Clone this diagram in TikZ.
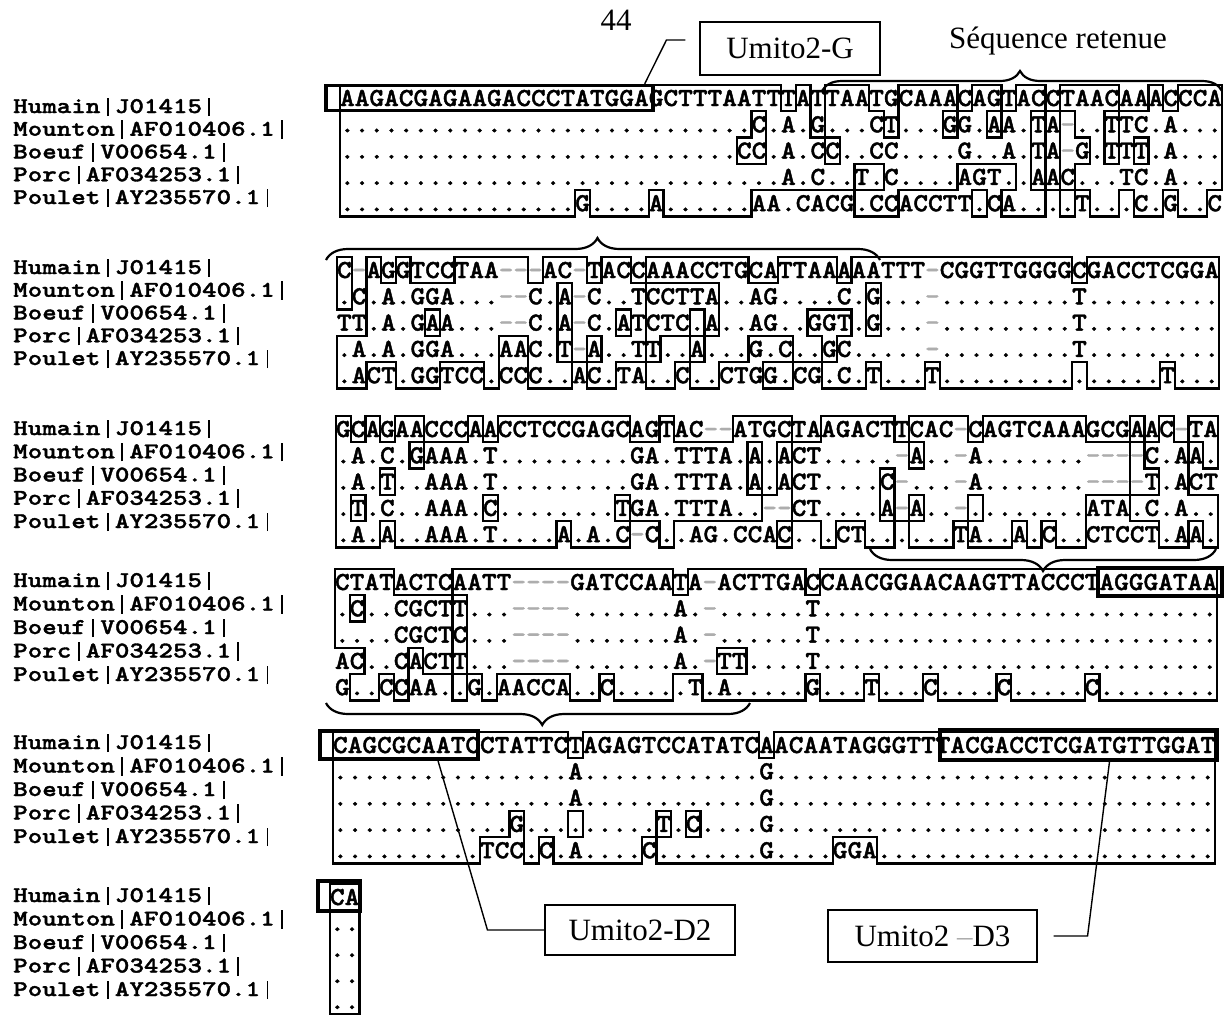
\documentclass[tikz,border=0pt]{standalone}
\usepackage{fontspec}
\setmainfont{Liberation Serif}
\newfontfamily\seqfont{lmmonolt10-bold.otf}[FakeStretch=1.077, FakeBold=1.6]
\newfontfamily\labfont{lmmonolt10-bold.otf}[FakeStretch=1.23, FakeBold=1.6]
\usetikzlibrary{decorations.pathreplacing}
\definecolor{dashgray}{gray}{0.68}
\newcommand\vb{\makebox[\fontcharwd\font`\|]{\rule[-3pt]{1.9pt}{18.5pt}}}
\tikzset{
  seqrow/.style={anchor=base west, inner sep=0pt, outer sep=0pt, font=\seqfont\fontsize{26}{26}\selectfont},
  lab/.style={anchor=base west, inner sep=0pt, font=\labfont\fontsize{22.5}{22.5}\selectfont},
  alline/.style={line width=2.3pt, line cap=rect},
  primer/.style={draw, line width=3.4pt, inner sep=0pt},
  tbox/.style={draw, line width=1.1pt, inner sep=0pt, font=\fontsize{31}{31}\selectfont},
  conn/.style={line width=1.4pt},
  bracepath/.style={line width=2.2pt, decorate},
  plaintext/.style={inner sep=0pt, font=\fontsize{31}{31}\selectfont},
}
\ExplSyntaxOn
\intarray_new:Nn \g_al_mask_intarray { 800 }
\int_new:N \l_al_n_int
\int_new:N \l_al_max_int
\int_new:N \l_al_na_int
\int_new:N \l_al_nb_int
\int_new:N \l_al_nc_int
\int_new:N \l_al_nd_int
\int_new:N \l_al_ne_int
\str_new:N \l_al_ra_str
\str_new:N \l_al_rb_str
\str_new:N \l_al_rc_str
\str_new:N \l_al_rd_str
\str_new:N \l_al_re_str
\tl_new:N \l_al_ca_tl
\tl_new:N \l_al_cb_tl
\tl_new:N \l_al_cc_tl
\tl_new:N \l_al_cd_tl
\tl_new:N \l_al_ce_tl
\tl_new:N \l_al_cons_tl
\tl_new:N \l_al_tmp_tl
\fp_const:Nn \c_al_w_fp { 14.7 }
\cs_new:Npn \Dr #1 { \prg_replicate:nn {#1} {.} }
\cs_new:Npn \al_res:Nn #1#2
  {
    \str_if_eq:eeTF { \str_item:Nn #1 {#2} } { . }
      { \str_item:Nn \l_al_ra_str {#2} }
      { \str_item:Nn #1 {#2} }
  }
\cs_new_protected:Npn \al_count:NN #1#2
  {
    \int_zero:N #2
    \tl_if_eq:NNT #1 \l_al_ca_tl { \int_incr:N #2 }
    \tl_if_eq:NNT #1 \l_al_cb_tl { \int_incr:N #2 }
    \tl_if_eq:NNT #1 \l_al_cc_tl { \int_incr:N #2 }
    \tl_if_eq:NNT #1 \l_al_cd_tl { \int_incr:N #2 }
    \tl_if_eq:NNT #1 \l_al_ce_tl { \int_incr:N #2 }
    \int_compare:nNnT { #2 } > { \l_al_max_int }
      { \int_set_eq:NN \l_al_max_int #2 }
  }
\cs_new_protected:Npn \al_setmask:nnN #1#2#3
  {
    \tl_if_eq:NNT #3 \l_al_cons_tl
      { \intarray_gset:Nnn \g_al_mask_intarray { (#1 + 1) * 100 + #2 + 1 } { 1 } }
  }
\cs_new:Npn \al_mask:nn #1#2
  { \intarray_item:Nn \g_al_mask_intarray { (#1 + 1) * 100 + #2 + 1 } }
\cs_new_protected:Npn \al_seg:nnnn #1#2#3#4
  {
    \use:x
      {
        \exp_not:N \draw [alline]
          ( \fp_eval:n {#1} , \fp_eval:n {#2} ) -- ( \fp_eval:n {#3} , \fp_eval:n {#4} ) ;
      }
  }
\cs_new_protected:Npn \al_typeset:n #1
  {
    \str_map_inline:nn {#1}
      { \str_if_eq:nnTF {##1} { - } { \textcolor{dashgray}{-} } {##1} }
  }
\cs_new_protected:Npn \al_rowtext:nnnnn #1#2#3#4#5
  {
    \use:x
      {
        \exp_not:N \node [seqrow] ~ (b#1r#2) ~ at ~ ( \fp_eval:n {#3} , \fp_eval:n {#4} )
          { \exp_not:N \al_typeset:n {#5} } ;
      }
  }
\cs_new_protected:Npn \al_setrow:Nn #1#2
  {
    \tl_set:Nx \l_al_tmp_tl {#2}
    \str_set:NV #1 \l_al_tmp_tl
  }
\cs_new_protected:Npn \al_block:nnnnnnnnn #1#2#3#4#5#6#7#8#9
  {
    \al_setrow:Nn \l_al_ra_str {#5}
    \al_setrow:Nn \l_al_rb_str {#6}
    \al_setrow:Nn \l_al_rc_str {#7}
    \al_setrow:Nn \l_al_rd_str {#8}
    \al_setrow:Nn \l_al_re_str {#9}
    \int_set:Nn \l_al_n_int { \str_count:N \l_al_ra_str }
    \intarray_gzero:N \g_al_mask_intarray
    \al_rowtext:nnnnn {#1} {1} {#2} { #3 + 8 } { \str_use:N \l_al_ra_str }
    \al_rowtext:nnnnn {#1} {2} {#2} { #3 + (#4) + 8 } { \str_use:N \l_al_rb_str }
    \al_rowtext:nnnnn {#1} {3} {#2} { #3 + 2 * (#4) + 8 } { \str_use:N \l_al_rc_str }
    \al_rowtext:nnnnn {#1} {4} {#2} { #3 + 3 * (#4) + 8 } { \str_use:N \l_al_rd_str }
    \al_rowtext:nnnnn {#1} {5} {#2} { #3 + 4 * (#4) + 8 } { \str_use:N \l_al_re_str }
    \int_step_inline:nn { \l_al_n_int }
      {
        \tl_set:Nx \l_al_ca_tl { \str_item:Nn \l_al_ra_str {##1} }
        \tl_set:Nx \l_al_cb_tl { \al_res:Nn \l_al_rb_str {##1} }
        \tl_set:Nx \l_al_cc_tl { \al_res:Nn \l_al_rc_str {##1} }
        \tl_set:Nx \l_al_cd_tl { \al_res:Nn \l_al_rd_str {##1} }
        \tl_set:Nx \l_al_ce_tl { \al_res:Nn \l_al_re_str {##1} }
        \int_zero:N \l_al_max_int
        \al_count:NN \l_al_ca_tl \l_al_na_int
        \al_count:NN \l_al_cb_tl \l_al_nb_int
        \al_count:NN \l_al_cc_tl \l_al_nc_int
        \al_count:NN \l_al_cd_tl \l_al_nd_int
        \al_count:NN \l_al_ce_tl \l_al_ne_int
        \int_compare:nNnTF { \l_al_na_int } = { \l_al_max_int }
          { \tl_set_eq:NN \l_al_cons_tl \l_al_ca_tl }
          {
            \int_compare:nNnTF { \l_al_nb_int } = { \l_al_max_int }
              { \tl_set_eq:NN \l_al_cons_tl \l_al_cb_tl }
              {
                \int_compare:nNnTF { \l_al_nc_int } = { \l_al_max_int }
                  { \tl_set_eq:NN \l_al_cons_tl \l_al_cc_tl }
                  {
                    \int_compare:nNnTF { \l_al_nd_int } = { \l_al_max_int }
                      { \tl_set_eq:NN \l_al_cons_tl \l_al_cd_tl }
                      { \tl_set_eq:NN \l_al_cons_tl \l_al_ce_tl }
                  }
              }
          }
        \al_setmask:nnN {1} {##1} \l_al_ca_tl
        \al_setmask:nnN {2} {##1} \l_al_cb_tl
        \al_setmask:nnN {3} {##1} \l_al_cc_tl
        \al_setmask:nnN {4} {##1} \l_al_cd_tl
        \al_setmask:nnN {5} {##1} \l_al_ce_tl
      }
    \int_step_inline:nn { 5 }
      {
        \int_step_inline:nnn { 0 } { \l_al_n_int }
          {
            \int_compare:nNnF { \al_mask:nn {##1} {####1} } = { \al_mask:nn {##1} { ####1 + 1 } }
              {
                \al_seg:nnnn
                  { #2 + ####1 * \c_al_w_fp } { #3 + (##1 - 1.5) * (#4) }
                  { #2 + ####1 * \c_al_w_fp } { #3 + (##1 - 0.5) * (#4) }
              }
          }
      }
    \int_step_inline:nnn { 0 } { 5 }
      {
        \int_step_inline:nn { \l_al_n_int }
          {
            \int_compare:nNnF { \al_mask:nn {##1} {####1} } = { \al_mask:nn { ##1 + 1 } {####1} }
              {
                \al_seg:nnnn
                  { #2 + (####1 - 1) * \c_al_w_fp } { #3 + (##1 - 0.5) * (#4) }
                  { #2 + ####1 * \c_al_w_fp } { #3 + (##1 - 0.5) * (#4) }
              }
          }
      }
  }
\NewDocumentCommand \alblock { m m m m m m m m m }
  { \al_block:nnnnnnnnn {#1} {#2} {#3} {#4} {#5} {#6} {#7} {#8} {#9} }
\ExplSyntaxOff
\begin{document}
\begin{tikzpicture}[x=1pt,y=-1pt]
\useasboundingbox (0,0) rectangle (1225,1017);

% row labels
\foreach \b/\yy/\dy in {1/106/22.75,2/267/22.75,3/428/23.25,4/580/23.5,5/742/23.5,6/895/23.5}{
  \foreach \t [count=\i] in {Humain\vb J01415\vb,Mounton\vb AF010406.1\vb,Boeuf\vb V00654.1\vb,Porc\vb AF034253.1\vb,Poulet\vb AY235570.1\vb}{
    \node[lab] (l\b-\i) at (13,{\yy+7+(\i-1)*\dy}) {\t};
  }
}

% alignment blocks
\alblock{1}{340}{98}{26.3}
  {AAGACGAGAAGACCCTATGGAGCTTTAATTTATTAATGCAAACAGTACCTAACAAACCCA}
  {\Dr{28}C.A.G...CT...GG.AA.TA-..TTC.A...}
  {\Dr{27}CC.A.CC..CC....G..A.TA-G.TTT.A...}
  {\Dr{30}A.C..T.C....AGT..AAC...TC.A...}
  {\Dr{16}G....A......AA.CACG.CCACCTT.CA....T...C.G..C}
\alblock{2}{337}{270}{26.3}
  {C-AGGTCCTAA---AC-TACCAAACCTGCATTAAAAATTT-CGGTTGGGGCGACCTCGGA}
  {.C.A.GGA...--C.A-C..TCCTTA..AG....C.G...-\Dr{9}T\Dr{9}}
  {TT.A.GAA...--C.A-C.ATCTC.A..AG..GGT.G...-\Dr{9}T\Dr{9}}
  {.A.A.GGA...AAC.T-A..TT..A...G.C..GC.....-\Dr{9}T\Dr{9}}
  {.ACT.GGTCC.CCC..AC.TA..C..CTGG.CG.C.T...T\Dr{15}T...}
\alblock{3}{336}{429}{26.3}
  {GCAGAACCCAACCTCCGAGCAGTAC--ATGCTAAGACTTCAC-CAGTCAAAGCGAAC-TA}
  {.A.C.GAAA.T\Dr{9}GA.TTTA.A.ACT.....-A..-A.......----C.AA.}
  {.A.T..AAA.T\Dr{9}GA.TTTA.A.ACT....C-...-A.......----T.ACT}
  {.T.C..AAA.C\Dr{8}TGA.TTTA..--CT....A-A..-\Dr{8}ATA.C.A..}
  {.A.A..AAA.T....A.A.C-C..AG.CCAC...CT......TA..A.C..CTCCT.AA.}
\alblock{4}{335}{582}{26.3}
  {CTATACTCAATT----GATCCAATA-ACTTGACCAACGGAACAAGTTACCCTAGGGATAA}
  {.C..CGCTT...----.......A.-......T\Dr{27}}
  {....CGCTC...----.......A.-......T\Dr{27}}
  {AC..CACTT...----.......A.-TT....T\Dr{27}}
  {G..CCAA..G.AACCA..C.....T.A.....G...T...C....C.....C\Dr{8}}
\alblock{5}{333}{745}{26.3}
  {CAGCGCAATCCTATTCTAGAGTCCATATCAACAATAGGGTTTACGACCTCGATGTTGGAT}
  {\Dr{16}A\Dr{12}G\Dr{30}}
  {\Dr{16}A\Dr{12}G\Dr{30}}
  {\Dr{12}G\Dr{9}T.C....G\Dr{30}}
  {\Dr{10}TCC.C.A....C.......G....GGA\Dr{23}}
\alblock{6}{330}{897}{26}
  {CA}{..}{..}{..}{..}

% primer boxes
\node[primer, minimum width=327, minimum height=25] (pg) at (489.5,98) {};
\node[primer, minimum width=124, minimum height=28] (p4) at (1160,582) {};
\node[primer, minimum width=158, minimum height=28] (pd2) at (399,745) {};
\node[primer, minimum width=277, minimum height=30] (pd3) at (1078.5,745) {};
\node[primer, minimum width=42, minimum height=30] (p6) at (339,896) {};

% labels of primers
\node[tbox, minimum width=180, minimum height=53] (ug) at (790,48.5) {Umito2-G};
\node[tbox, minimum width=190, minimum height=50] (ud2) at (640,930) {Umito2-D2};
\node[tbox, minimum width=209, minimum height=52] (ud3) at (932.5,936) {Umito2 \textcolor{dashgray}{–}D3};

\node[plaintext] (pnum) at (616,20) {44};
\node[plaintext] (seqret) at (1058,41) {Séquence retenue};

% connectors
\draw[conn] ([shift={(-14,-8.5)}]ug.west) -- ++(-19,0) -- ([xshift=-10]pg.north east);
\draw[conn] (ud2.west) -- ++(-57,0) -- ([xshift=39]pd2.south);
\draw[conn] ([xshift=16]ud3.east) -- ++(34,0) -- ([xshift=31]pd3.south);

% braces
\draw[bracepath, decoration={brace, amplitude=20pt, aspect=0.495}] (822,91) -- (1222,91);
\draw[bracepath, decoration={brace, amplitude=22pt, aspect=0.49}] (326,260) -- (880,260);
\draw[bracepath, decoration={brace, amplitude=22pt, aspect=0.5}] (1216,549) -- (870,549);
\draw[bracepath, decoration={brace, amplitude=22pt, aspect=0.49}] (750,703) -- (326,703);
\end{tikzpicture}
\end{document}
